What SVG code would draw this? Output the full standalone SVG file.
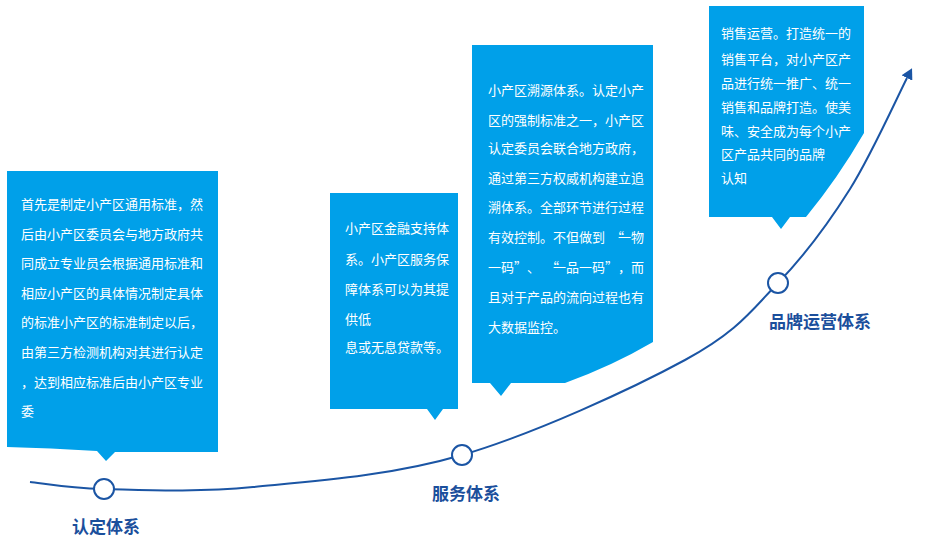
<svg xmlns="http://www.w3.org/2000/svg" width="930" height="544" viewBox="0 0 930 544">
  <defs>
    <style>
      .box { fill: #00A0E9; }
      .txt { font-family: "Noto Sans CJK SC", "Noto Sans", sans-serif; font-size: 13px; fill: #FFFFFF; }
      .lbl { font-family: "Noto Sans CJK SC", "Noto Sans", sans-serif; font-size: 17px; font-weight: bold; fill: #1B4F9C; text-anchor: middle; }
      .dot { fill: #FFFFFF; stroke: #1B55A4; stroke-width: 2; }
      .curve { fill: none; stroke: #1B55A4; stroke-width: 2; }
    </style>
    <marker id="arrow" viewBox="0 0 12 12" markerWidth="12" markerHeight="12" refX="0" refY="6" orient="auto" markerUnits="userSpaceOnUse">
      <path d="M0,0 L11,6 L0,12 Z" fill="#1B55A4"/>
    </marker>
  </defs>
  <rect width="930" height="544" fill="#FFFFFF"/>

  <g id="connectors">
    <path class="curve" marker-end="url(#arrow)" d="M30,482 C42.3,483.2 66.8,488.2 104,489 C141.2,489.8 193.3,492.7 253,487 C312.7,481.3 390,476.2 462,455 C534,433.8 632.3,388.7 685,360 C737.7,331.3 750.5,311.5 778,283 C805.5,254.5 828.5,223.2 850,189 C871.5,154.8 897.5,96.5 907,78"/>
  </g>

  <g id="node-renzheng">
    <path class="box" d="M7,171 H218 V452 H115 L106,461 L97,451 Q50,448 7,447 Z"/>
    <text class="txt" x="21">
      <tspan x="21" y="209">首先是制定小产区通用标准，然</tspan>
      <tspan x="21" y="239">后由小产区委员会与地方政府共</tspan>
      <tspan x="21" y="268">同成立专业员会根据通用标准和</tspan>
      <tspan x="21" y="298">相应小产区的具体情况制定具体</tspan>
      <tspan x="21" y="327">的标准小产区的标准制定以后，</tspan>
      <tspan x="21" y="357">由第三方检测机构对其进行认定</tspan>
      <tspan x="21" y="387">，达到相应标准后由小产区专业</tspan>
      <tspan x="21" y="416">委</tspan>
    </text>
    <circle class="dot" cx="104" cy="489" r="10"/>
    <text class="lbl" x="106" y="533">认定体系</text>
  </g>

  <g id="node-jinrong">
    <path class="box" d="M330,193 H458 V409 H443 L435,420 L427,409 H330 Z"/>
    <text class="txt">
      <tspan x="345" y="233">小产区金融支持体</tspan>
      <tspan x="345" y="264">系。小产区服务保</tspan>
      <tspan x="345" y="294">障体系可以为其提</tspan>
      <tspan x="345" y="324">供低</tspan>
      <tspan x="345" y="352">息或无息贷款等。</tspan>
    </text>
  </g>

  <g id="node-suyuan">
    <path class="box" d="M472,45 H653 V342 Q612,366 565,383 H511 L501,396 L490,383 H472 Z"/>
    <text class="txt">
      <tspan x="488" y="95">小产区溯源体系。认定小产</tspan>
      <tspan x="488" y="125">区的强制标准之一，小产区</tspan>
      <tspan x="488" y="153">认定委员会联合地方政府，</tspan>
      <tspan x="488" y="183">通过第三方权威机构建立追</tspan>
      <tspan x="488" y="212">溯体系。全部环节进行过程</tspan>
      <tspan x="488 501 514 527 540 553 566 579 592 611 618 631" y="242">有效控制。不但做到“一物</tspan>
      <tspan x="488 501 514 527 546 553 566 579 592 605 618 631" y="272">一码”、“一品一码”，而</tspan>
      <tspan x="488" y="302">且对于产品的流向过程也有</tspan>
      <tspan x="488" y="332">大数据监控。</tspan>
    </text>
    <circle class="dot" cx="462" cy="455" r="10"/>
    <text class="lbl" x="466" y="500">服务体系</text>
  </g>

  <g id="node-pinpai">
    <path class="box" d="M709,6 H864 V133 Q838,178 806,217 H790 L781,229 L772,217 H709 Z"/>
    <text class="txt">
      <tspan x="721" y="38">销售运营。打造统一的</tspan>
      <tspan x="721" y="64">销售平台，对小产区产</tspan>
      <tspan x="721" y="88">品进行统一推广、统一</tspan>
      <tspan x="721" y="112">销售和品牌打造。使美</tspan>
      <tspan x="721" y="136">味、安全成为每个小产</tspan>
      <tspan x="721" y="159">区产品共同的品牌</tspan>
      <tspan x="721" y="183">认知</tspan>
    </text>
    <circle class="dot" cx="778" cy="283" r="10"/>
    <text class="lbl" x="820" y="328">品牌运营体系</text>
  </g>
</svg>
